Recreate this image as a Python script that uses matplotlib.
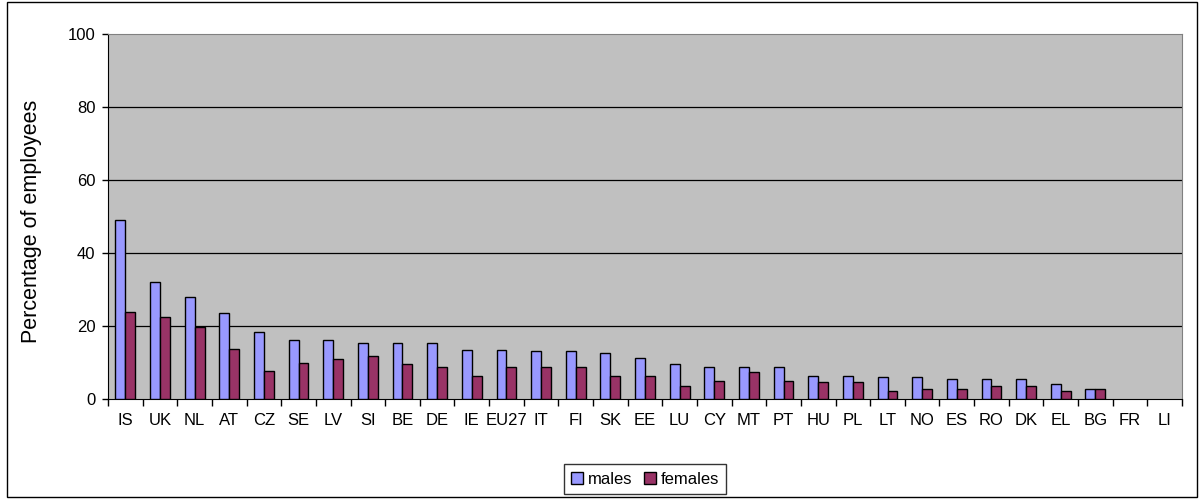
import numpy as np
import matplotlib.pyplot as plt
from matplotlib.patches import Rectangle

plt.rcParams['font.family'] = ['Liberation Sans', 'DejaVu Sans']

countries = ["IS", "UK", "NL", "AT", "CZ", "SE", "LV", "SI", "BE", "DE", "IE", "EU27",
             "IT", "FI", "SK", "EE", "LU", "CY", "MT", "PT", "HU", "PL", "LT", "NO",
             "ES", "RO", "DK", "EL", "BG", "FR", "LI"]
males = [49.1, 32.0, 28.0, 23.6, 18.5, 16.3, 16.3, 15.3, 15.3, 15.3, 13.6, 13.6,
         13.2, 13.2, 12.8, 11.4, 9.6, 8.7, 8.7, 8.7, 6.4, 6.5, 6.0, 6.0,
         5.6, 5.6, 5.6, 4.2, 2.8, np.nan, np.nan]
females = [24.0, 22.6, 19.9, 13.7, 7.8, 10.0, 11.0, 11.9, 9.6, 8.7, 6.5, 8.7,
           8.7, 8.7, 6.4, 6.4, 3.6, 5.1, 7.4, 5.1, 4.6, 4.6, 2.4, 2.8,
           2.8, 3.7, 3.7, 2.4, 2.8, np.nan, np.nan]
yticks = [0, 20, 40, 60, 80, 100]

W, H = 1203, 501
fig = plt.figure(figsize=(W / 100, H / 100), dpi=100)
fig.patch.set_facecolor('white')

# outer chart frame
fig.patches.append(Rectangle((7 / W, 1 - 497 / H), (1197 - 7) / W, (497 - 2) / H,
                             transform=fig.transFigure, fill=False,
                             edgecolor='black', linewidth=1.0))

left, right, top, bottom = 108, 1182, 33.7, 399.3
ax = fig.add_axes([left / W, 1 - bottom / H, (right - left) / W, (bottom - top) / H])
ax.set_facecolor('#C0C0C0')

x = np.arange(len(countries))
w = 1 / 3.5
ax.bar(x - w / 2, males, width=w, color='#9999FF', edgecolor='black',
       linewidth=1.0, label='males', zorder=3)
ax.bar(x + w / 2, females, width=w, color='#993366', edgecolor='black',
       linewidth=1.0, label='females', zorder=3)

ax.set_xlim(-0.5, len(countries) - 0.5)
ax.set_ylim(0, 100)
ax.set_yticks(yticks)
ax.tick_params(axis='y', labelsize=12, length=4, width=1, pad=5, direction='out')
for yv in yticks[1:-1]:
    ax.axhline(yv, color='black', linewidth=0.9, zorder=1)

# category boundaries get ticks, labels sit at the centres
ax.set_xticks(np.arange(-0.5, len(countries), 1.0))
ax.set_xticklabels([])
ax.set_xticks(x, minor=True)
ax.set_xticklabels(countries, minor=True)
ax.tick_params(axis='x', which='major', length=5, width=1, direction='out')
ax.tick_params(axis='x', which='minor', length=0, labelsize=12, pad=10)

for side in ['top', 'right']:
    ax.spines[side].set_color('#808080')
for side in ['left', 'bottom']:
    ax.spines[side].set_color('black')

ax.set_ylabel('Percentage of employees', fontsize=15.5)
ax.yaxis.set_label_coords(-(left - 42) / (right - left), 0.488)

leg = fig.legend(loc='center', bbox_to_anchor=(645 / W, 1 - 479 / H), ncol=2,
                 frameon=True, fancybox=False, edgecolor='black', fontsize=12,
                 handlelength=0.7, handleheight=0.7, handletextpad=0.3,
                 columnspacing=0.7, borderpad=0.45)
leg.get_frame().set_linewidth(1.0)

fig.savefig('out.png', dpi=100)
